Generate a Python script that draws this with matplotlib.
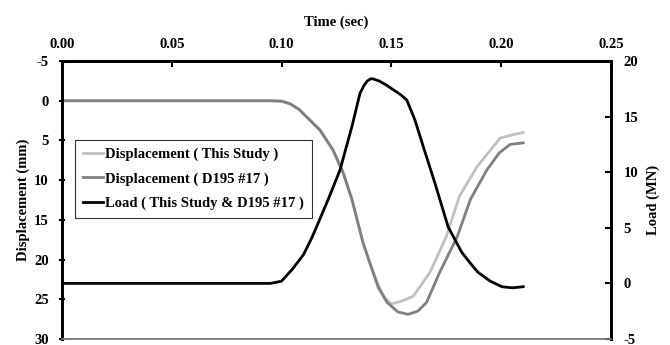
import matplotlib.pyplot as plt

plt.rcParams['font.family'] = ['Liberation Serif', 'DejaVu Serif']
plt.rcParams['font.weight'] = 'bold'
plt.rcParams['axes.unicode_minus'] = False

# Displacement, this study (time [s], displacement [mm])
t_disp_study = [0, 0.05, 0.095, 0.100, 0.104, 0.108, 0.1175, 0.1234, 0.128, 0.132, 0.1343,
                0.137, 0.140, 0.144, 0.147, 0.150, 0.155, 0.160, 0.1676, 0.175, 0.181,
                0.189, 0.1995, 0.205, 0.21]
disp_study = [0, 0, 0, 0.05, 0.4, 1.1, 3.7, 6.2, 9.05, 12.4, 14.9,
              17.8, 20.3, 23.2, 24.8, 25.6, 25.2, 24.6, 21.6, 17.1, 12.0,
              8.3, 4.7, 4.3, 4.0]

# Displacement, D195 #17
t_disp_d195 = [0, 0.05, 0.095, 0.100, 0.104, 0.108, 0.1175, 0.1234, 0.128, 0.132, 0.1343,
               0.137, 0.140, 0.144, 0.148, 0.153, 0.1576, 0.162, 0.166, 0.172, 0.180,
               0.186, 0.1935, 0.199, 0.204, 0.21]
disp_d195 = [0, 0, 0, 0.05, 0.4, 1.1, 3.7, 6.2, 9.05, 12.4, 14.9,
             17.8, 20.3, 23.5, 25.4, 26.6, 26.9, 26.5, 25.4, 21.6, 17.1,
             12.4, 8.7, 6.6, 5.5, 5.3]

# Load (this study & D195 #17) [MN]
t_load = [0, 0.05, 0.095, 0.100, 0.105, 0.110, 0.114, 0.1211, 0.1266, 0.132, 0.1357,
          0.1375, 0.139, 0.1405, 0.1416, 0.1445, 0.148, 0.154, 0.157, 0.1607, 0.165,
          0.170, 0.1758, 0.182, 0.186, 0.1894, 0.195, 0.2003, 0.205, 0.21]
load = [0, 0, 0, 0.2, 1.3, 2.6, 4.2, 7.5, 10.2, 14.1, 17.1,
        17.8, 18.2, 18.4, 18.4, 18.2, 17.8, 17.0, 16.5, 14.7, 12.0,
        8.9, 5.1, 2.8, 1.8, 1.0, 0.2, -0.3, -0.4, -0.3]

fig = plt.figure(figsize=(6.7, 3.45), dpi=100)
ax = fig.add_axes([0.0925, 0.0175, 0.8195, 0.8055])
ax2 = ax.twinx()

l1, = ax.plot(t_disp_study, disp_study, color='#c0c0c0', lw=2, label='Displacement ( This Study )')
l2, = ax.plot(t_disp_d195, disp_d195, color='#808080', lw=2, label='Displacement ( D195 #17 )')
l3, = ax2.plot(t_load, load, color='black', lw=2, label='Load ( This Study & D195 #17 )')

ax.set_xlim(0, 0.25)
ax.set_ylim(30, -5)
ax2.set_ylim(-5, 20)
ax.set_xticks([0, 0.05, 0.10, 0.15, 0.20, 0.25])
ax.set_yticks(range(-5, 31, 5))
ax2.set_yticks(range(-5, 21, 5))
ax.xaxis.set_major_formatter(plt.FormatStrFormatter('%.2f'))

fs = 10.5
ax.xaxis.tick_top()
ax.xaxis.set_label_position('top')
ax.tick_params(axis='x', direction='in', length=4, width=1.5, labelsize=fs, pad=7)
ax.tick_params(axis='y', direction='inout', length=5, width=1.5, labelsize=fs, pad=7)
ax2.tick_params(axis='y', direction='in', length=4, width=1.5, labelsize=fs, pad=9)

for a in (ax, ax2):
    for s in ('left', 'right', 'top'):
        a.spines[s].set_linewidth(2)
        a.spines[s].set_color('black')
    a.spines['bottom'].set_color('#808080')
    a.spines['bottom'].set_linewidth(1.2)

ax.set_xlabel('Time (sec)', fontsize=fs, fontweight='bold', labelpad=9)
ax.set_ylabel('Displacement (mm)', fontsize=fs, fontweight='bold', labelpad=3)
ax2.set_ylabel('Load (MN)', fontsize=fs, fontweight='bold', labelpad=6)

leg = ax2.legend(handles=[l1, l2, l3], loc='upper left', bbox_to_anchor=(0.0237, 0.717),
                 fontsize=fs, frameon=True, fancybox=False, edgecolor='black',
                 handlelength=1.4, handletextpad=0.1, labelspacing=0.75,
                 borderpad=0.55, borderaxespad=0)
leg.get_frame().set_linewidth(0.8)
for txt in leg.get_texts():
    txt.set_fontweight('bold')

fig.savefig('out.png', dpi=100)
